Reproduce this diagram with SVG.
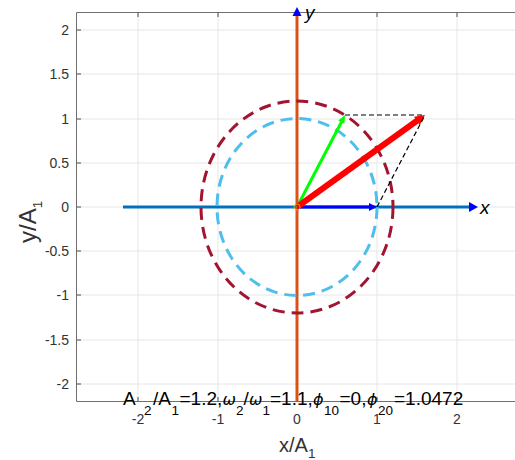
<svg xmlns="http://www.w3.org/2000/svg" width="515" height="460" viewBox="0 0 515 460">
<style>
.grid{stroke:#e6e6e6;stroke-width:1;fill:none}
.box{stroke:#6f6f6f;stroke-width:1;fill:none}
.tick{stroke:#4d4d4d;stroke-width:1}
.tl{font-family:"Liberation Sans",Arial,sans-serif;font-size:14px;fill:#333333}
.lab{font-family:"Liberation Sans",Arial,sans-serif;fill:#333333}
.ttl{font-family:"Liberation Sans",Arial,sans-serif;font-size:19px;fill:#000000}
.sub{font-size:13.5px}
.gr{font-family:"DejaVu Sans",sans-serif;font-style:italic;font-size:16px}
.circ{fill:none;stroke-width:3;stroke-dasharray:12 7}
.guide{stroke:#000000;stroke-width:1.2;stroke-dasharray:5 3;fill:none}
</style>
<rect x="0" y="0" width="515" height="460" fill="#ffffff"/>
<g id="grid">
<path class="grid" d="M138 13V401M218 13V401M297 13V401M377 13V401M457 13V401M76 30H515M76 74H515M76 119H515M76 163H515M76 207H515M76 251H515M76 295H515M76 340H515M76 384H515"/>
</g>
<g id="axes-box">
<path class="box" d="M515 12.5H76.5V401.5H515"/>
<path class="tick" d="M138 13V17M218 13V17M297 13V17M377 13V17M457 13V17M138 401V397M218 401V397M297 401V397M377 401V397M457 401V397M77 30H81M77 74H81M77 119H81M77 163H81M77 207H81M77 251H81M77 295H81M77 340H81M77 384H81"/>
</g>
<g id="yticks" class="tl" text-anchor="end">
<text x="69" y="35">2</text>
<text x="69" y="79">1.5</text>
<text x="69" y="124">1</text>
<text x="69" y="168">0.5</text>
<text x="69" y="212">0</text>
<text x="69" y="256">-0.5</text>
<text x="69" y="300">-1</text>
<text x="69" y="345">-1.5</text>
<text x="69" y="389">-2</text>
</g>
<g id="xticks" class="tl" text-anchor="middle">
<text x="138" y="424">-2</text>
<text x="218" y="424">-1</text>
<text x="297" y="424">0</text>
<text x="377" y="424">1</text>
<text x="457" y="424">2</text>
</g>
<g id="xlabel"><text class="lab" x="279" y="452" font-size="20px">x/A<tspan class="sub" font-size="15px" dy="6">1</tspan></text></g>
<g id="ylabel"><text class="lab" transform="translate(36,243) rotate(-90)" font-size="24px">y/A<tspan class="sub" font-size="16px" dy="6">1</tspan></text></g>
<g id="connectors">
<g id="x-axis">
<line x1="123" y1="207" x2="470" y2="207" stroke="#0072BD" stroke-width="3"/>
<polygon points="478,207 469,202 469,212" fill="#0000FF"/>
</g>
<g id="y-axis">
<line x1="297" y1="16" x2="297" y2="401" stroke="#D95319" stroke-width="3"/>
<polygon points="297,7 292.5,16 301.5,16" fill="#0000FF"/>
</g>
<ellipse id="circle-A2" class="circ" cx="297" cy="207" rx="96" ry="106" stroke="#A2142F"/>
<ellipse id="circle-A1" class="circ" cx="297" cy="207" rx="80" ry="88.5" stroke="#4DBEEE"/>
<g id="vec-blue">
<line x1="297" y1="207" x2="370" y2="207" stroke="#0000FF" stroke-width="3"/>
<polygon points="377,207 369,203 369,211" fill="#0000FF"/>
</g>
<g id="vec-green">
<line x1="297" y1="207" x2="342" y2="121" stroke="#00FF00" stroke-width="3"/>
<polygon points="345,115 344.4,123.7 338.2,120.5" fill="#00FF00"/>
</g>
<g id="vec-red">
<line x1="297" y1="207" x2="418" y2="120" stroke="#FF0000" stroke-width="6"/>
<polygon points="425,115 419.8,124.9 414,116.8" fill="#FF0000"/>
</g>
<path class="guide" d="M345 115H425M377 207L425 115"/>
<circle cx="297" cy="207" r="3" fill="none" stroke="#EDB120" stroke-width="0.8"/>
</g>
<g id="axis-names" font-family="Liberation Sans, Arial, sans-serif" font-style="italic" font-size="19px" fill="#000000">
<text x="480" y="214">x</text>
<text x="305" y="19">y</text>
</g>
<g id="title">
<text class="ttl" y="405"><tspan x="123">A</tspan><tspan class="sub" x="144" y="415">2</tspan><tspan x="153" y="405">/A</tspan><tspan class="sub" x="171.5" y="415">1</tspan><tspan x="179.5" y="405">=1.2,</tspan><tspan class="gr" x="222.5" y="405">ω</tspan><tspan class="sub" x="236" y="415">2</tspan><tspan x="243.5" y="405">/</tspan><tspan class="gr" x="249" y="405">ω</tspan><tspan class="sub" x="262.5" y="415">1</tspan><tspan x="270" y="405">=1.1,</tspan><tspan class="gr" x="313" y="405">ϕ</tspan><tspan class="sub" x="324" y="415">10</tspan><tspan x="339.5" y="405">=0,</tspan><tspan class="gr" x="367" y="405">ϕ</tspan><tspan class="sub" x="378" y="415">20</tspan><tspan x="394" y="405">=1.0472</tspan></text>
</g>
</svg>
